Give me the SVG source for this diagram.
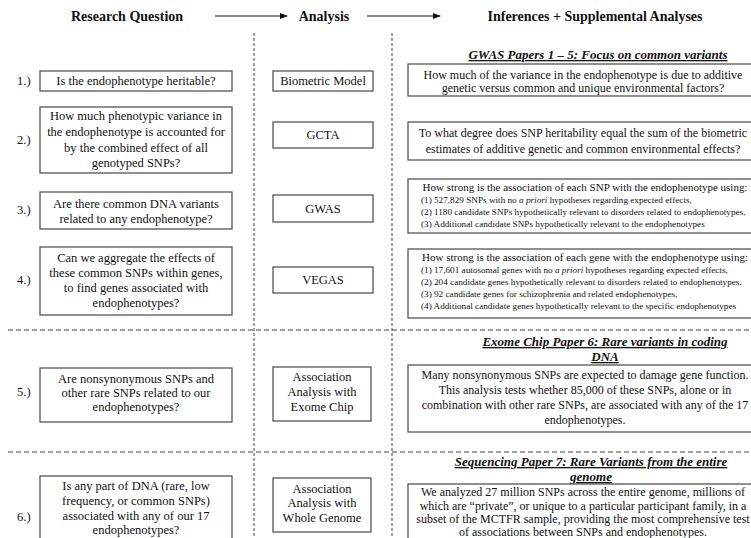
<svg xmlns="http://www.w3.org/2000/svg" width="751" height="538" viewBox="0 0 751 538">
<defs>
<marker id="ah" markerWidth="8" markerHeight="6" refX="7" refY="3" orient="auto" markerUnits="userSpaceOnUse">
<path d="M0,0 L8,3 L0,6 Z" fill="#111"/>
</marker>
<style>
text{font-family:"Liberation Serif","Times New Roman",serif;fill:#111}
.h{font-size:14px;font-weight:bold}
.t{font-size:12.5px;text-anchor:middle}
.r{font-size:12px;text-anchor:middle}
.q{font-size:11px;text-anchor:middle}
.n{font-size:12.5px}
.s{font-size:9.2px}
.sh{font-size:13px;font-weight:bold;font-style:italic;text-decoration:underline;text-anchor:middle}
.box{fill:#fff;stroke:#555;stroke-width:1.3}
.dv{stroke:#444;stroke-width:1;stroke-dasharray:3 2;fill:none}
.dh{stroke:#444;stroke-width:1;stroke-dasharray:5 3;fill:none}
.ar{stroke:#111;stroke-width:1.2;fill:none}
</style>
</defs>
<rect width="751" height="538" fill="#fff"/>

<g id="headers">
<text class="h" x="127" y="21" text-anchor="middle">Research Question</text>
<text class="h" x="324" y="21" text-anchor="middle">Analysis</text>
<text class="h" x="595" y="21" text-anchor="middle">Inferences + Supplemental Analyses</text>
</g>

<g id="connectors">
<line class="ar" x1="215" y1="16" x2="287" y2="16" marker-end="url(#ah)"/>
<line class="ar" x1="367" y1="16" x2="440" y2="16" marker-end="url(#ah)"/>
<line class="dv" x1="254" y1="33" x2="254" y2="538"/>
<line class="dv" x1="392" y1="33" x2="392" y2="538"/>
<line class="dh" x1="8" y1="330" x2="751" y2="330"/>
<line class="dh" x1="8" y1="452" x2="751" y2="452"/>
</g>

<g id="section-titles">
<text class="sh" x="598" y="59">GWAS Papers 1 – 5: Focus on common variants</text>
<text class="sh" x="605" y="346">Exome Chip Paper 6: Rare variants in coding</text>
<text class="sh" x="605" y="361">DNA</text>
<text class="sh" x="591" y="466">Sequencing Paper 7: Rare Variants from the entire</text>
<text class="sh" x="591" y="481">genome</text>
</g>

<g id="row-labels">
<text class="n" x="17" y="85">1.)</text>
<text class="n" x="17" y="144">2.)</text>
<text class="n" x="17" y="214">3.)</text>
<text class="n" x="17" y="284">4.)</text>
<text class="n" x="17" y="396">5.)</text>
<text class="n" x="17" y="521">6.)</text>
</g>

<g id="q1"><rect class="box" x="40" y="71" width="192" height="20"/>
<text class="t" x="136" y="85">Is the endophenotype heritable?</text></g>
<g id="a1"><rect class="box" x="273" y="71" width="100" height="20"/>
<text class="t" x="323" y="85">Biometric Model</text></g>
<g id="i1"><rect class="box" x="408" y="64" width="350" height="32"/>
<text class="r" x="583" y="79">How much of the variance in the endophenotype is due to additive</text>
<text class="r" x="583" y="92">genetic versus common and unique environmental factors?</text></g>

<g id="q2"><rect class="box" x="40" y="107" width="192" height="66"/>
<text class="t" x="136" y="120">How much phenotypic variance in</text>
<text class="t" x="136" y="136">the endophenotype is accounted for</text>
<text class="t" x="136" y="152">by the combined effect of all</text>
<text class="t" x="136" y="167">genotyped SNPs?</text></g>
<g id="a2"><rect class="box" x="273" y="122" width="100" height="26"/>
<text class="t" x="323" y="139">GCTA</text></g>
<g id="i2"><rect class="box" x="408" y="122" width="350" height="38"/>
<text class="r" x="583" y="137">To what degree does SNP heritability equal the sum of the biometric</text>
<text class="r" x="583" y="153">estimates of additive genetic and common environmental effects?</text></g>

<g id="q3"><rect class="box" x="40" y="192" width="192" height="37"/>
<text class="t" x="136" y="208">Are there common DNA variants</text>
<text class="t" x="136" y="223">related to any endophenotype?</text></g>
<g id="a3"><rect class="box" x="273" y="195" width="100" height="27"/>
<text class="t" x="323" y="213">GWAS</text></g>
<g id="i3"><rect class="box" x="408" y="179" width="350" height="54"/>
<text class="q" x="585" y="191">How strong is the association of each SNP with the endophenotype using:</text>
<text class="s" x="421" y="203">(1) 527,829 SNPs with no <tspan font-style="italic">a priori</tspan> hypotheses regarding expected effects,</text>
<text class="s" x="421" y="215">(2) 1180 candidate SNPs hypothetically relevant to disorders related to endophenotypes,</text>
<text class="s" x="421" y="227">(3) Additional candidate SNPs hypothetically relevant to the endophenotypes</text></g>

<g id="q4"><rect class="box" x="40" y="247" width="192" height="68"/>
<text class="t" x="136" y="262">Can we aggregate the effects of</text>
<text class="t" x="136" y="277">these common SNPs within genes,</text>
<text class="t" x="136" y="292">to find genes associated with</text>
<text class="t" x="136" y="307">endophenotypes?</text></g>
<g id="a4"><rect class="box" x="273" y="267" width="100" height="26"/>
<text class="t" x="323" y="284">VEGAS</text></g>
<g id="i4"><rect class="box" x="408" y="249" width="350" height="69"/>
<text class="q" x="585" y="261">How strong is the association of each gene with the endophenotype using:</text>
<text class="s" x="421" y="273">(1) 17,601 autosomal genes with no <tspan font-style="italic">a priori</tspan> hypotheses regarding expected effects,</text>
<text class="s" x="421" y="285">(2) 204 candidate genes hypothetically relevant to disorders related to endophenotypes,</text>
<text class="s" x="421" y="297">(3) 92 candidate genes for schizophrenia and related endophenotypes,</text>
<text class="s" x="421" y="309">(4) Additional candidate genes hypothetically relevant to the specific endophenotypes</text></g>

<g id="q5"><rect class="box" x="40" y="368" width="192" height="54"/>
<text class="t" x="136" y="383">Are nonsynonymous SNPs and</text>
<text class="t" x="136" y="397">other rare SNPs related to our</text>
<text class="t" x="136" y="411">endophenotypes?</text></g>
<g id="a5"><rect class="box" x="273" y="367" width="98" height="54"/>
<text class="t" x="322" y="381">Association</text>
<text class="t" x="322" y="396">Analysis with</text>
<text class="t" x="322" y="411">Exome Chip</text></g>
<g id="i5"><rect class="box" x="408" y="365" width="350" height="67"/>
<text class="r" x="585" y="379">Many nonsynonymous SNPs are expected to damage gene function.</text>
<text class="r" x="585" y="394">This analysis tests whether 85,000 of these SNPs, alone or in</text>
<text class="r" x="585" y="409">combination with other rare SNPs, are associated with any of the 17</text>
<text class="r" x="585" y="424">endophenotypes.</text></g>

<g id="q6"><rect class="box" x="40" y="476" width="192" height="70"/>
<text class="t" x="136" y="490">Is any part of DNA (rare, low</text>
<text class="t" x="136" y="505">frequency, or common SNPs)</text>
<text class="t" x="136" y="520">associated with any of our 17</text>
<text class="t" x="136" y="534">endophenotypes?</text></g>
<g id="a6"><rect class="box" x="273" y="478" width="98" height="54"/>
<text class="t" x="322" y="493">Association</text>
<text class="t" x="322" y="507">Analysis with</text>
<text class="t" x="322" y="522">Whole Genome</text></g>
<g id="i6"><rect class="box" x="408" y="484" width="350" height="60"/>
<text class="r" x="583" y="496">We analyzed 27 million SNPs across the entire genome, millions of</text>
<text class="r" x="583" y="510">which are “private”, or unique to a particular participant family, in a</text>
<text class="r" x="583" y="523">subset of the MCTFR sample, providing the most comprehensive test</text>
<text class="r" x="583" y="536">of associations between SNPs and endophenotypes.</text></g>
</svg>
